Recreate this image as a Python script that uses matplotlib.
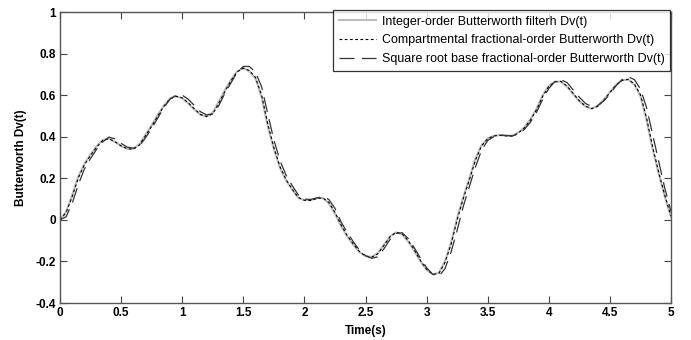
import matplotlib
matplotlib.use("Agg")
import matplotlib.pyplot as plt
import numpy as np

t = np.round(np.arange(0, 5.0001, 0.05), 2)

integer_order = [
    0.000, 0.040, 0.120, 0.210, 0.270, 0.315, 0.355, 0.385, 0.392, 0.375,
    0.355, 0.342, 0.342, 0.365, 0.410, 0.455, 0.505, 0.550, 0.585, 0.595,
    0.585, 0.560, 0.530, 0.505, 0.498, 0.515, 0.570, 0.625, 0.675, 0.715,
    0.730, 0.715, 0.680, 0.590, 0.450, 0.340, 0.250, 0.190, 0.145, 0.105,
    0.095, 0.095, 0.105, 0.105, 0.080, 0.030, -0.030, -0.080, -0.120, -0.155,
    -0.175, -0.178, -0.160, -0.120, -0.080, -0.060, -0.070, -0.105, -0.150, -0.200,
    -0.240, -0.262, -0.255, -0.200, -0.110, 0.010, 0.110, 0.200, 0.295, 0.360,
    0.392, 0.405, 0.408, 0.405, 0.405, 0.420, 0.445, 0.485, 0.535, 0.600,
    0.645, 0.665, 0.665, 0.640, 0.605, 0.570, 0.545, 0.535, 0.548, 0.578,
    0.615, 0.650, 0.672, 0.675, 0.650, 0.595, 0.480, 0.340, 0.220, 0.110,
    0.015,
]

compartmental = [
    0.000, 0.035, 0.112, 0.202, 0.265, 0.310, 0.350, 0.382, 0.390, 0.376,
    0.356, 0.342, 0.340, 0.360, 0.405, 0.450, 0.500, 0.546, 0.582, 0.594,
    0.587, 0.563, 0.534, 0.507, 0.497, 0.510, 0.562, 0.618, 0.670, 0.712,
    0.730, 0.718, 0.685, 0.600, 0.462, 0.348, 0.256, 0.194, 0.148, 0.108,
    0.094, 0.093, 0.102, 0.106, 0.084, 0.036, -0.024, -0.075, -0.116, -0.152,
    -0.174, -0.180, -0.164, -0.124, -0.082, -0.060, -0.067, -0.100, -0.145, -0.196,
    -0.238, -0.262, -0.258, -0.206, -0.118, 0.000, 0.102, 0.192, 0.288, 0.356,
    0.390, 0.404, 0.407, 0.404, 0.403, 0.417, 0.442, 0.480, 0.530, 0.594,
    0.642, 0.664, 0.666, 0.643, 0.608, 0.573, 0.547, 0.535, 0.546, 0.575,
    0.612, 0.648, 0.671, 0.676, 0.654, 0.602, 0.490, 0.350, 0.228, 0.116,
    0.018,
]

square_root = [
    0.000, 0.015, 0.080, 0.170, 0.245, 0.295, 0.340, 0.375, 0.398, 0.390,
    0.368, 0.350, 0.345, 0.355, 0.395, 0.440, 0.490, 0.540, 0.580, 0.600,
    0.600, 0.580, 0.550, 0.520, 0.505, 0.510, 0.550, 0.610, 0.660, 0.710,
    0.738, 0.738, 0.710, 0.640, 0.510, 0.385, 0.285, 0.215, 0.165, 0.120,
    0.100, 0.098, 0.105, 0.112, 0.098, 0.055, -0.010, -0.060, -0.105, -0.145,
    -0.172, -0.185, -0.178, -0.140, -0.095, -0.065, -0.062, -0.090, -0.135, -0.185,
    -0.230, -0.262, -0.272, -0.235, -0.155, -0.050, 0.065, 0.160, 0.255, 0.335,
    0.382, 0.400, 0.408, 0.406, 0.404, 0.412, 0.435, 0.470, 0.518, 0.580,
    0.632, 0.665, 0.675, 0.660, 0.625, 0.590, 0.560, 0.545, 0.550, 0.572,
    0.605, 0.645, 0.675, 0.688, 0.675, 0.630, 0.540, 0.410, 0.280, 0.150,
    0.040,
]

labels = [
    "Integer-order Butterworth filterh Dv(t)",
    "Compartmental fractional-order Butterworth Dv(t)",
    "Square root base fractional-order Butterworth Dv(t)",
]
xticks = [0, 0.5, 1, 1.5, 2, 2.5, 3, 3.5, 4, 4.5, 5]
xticklabels = ["0", "0.5", "1", "1.5", "2", "2.5", "3", "3.5", "4", "4.5", "5"]
yticks = [-0.4, -0.2, 0, 0.2, 0.4, 0.6, 0.8, 1]
yticklabels = ["-0.4", "-0.2", "0", "0.2", "0.4", "0.6", "0.8", "1"]

plt.rcParams['font.family'] = ['Liberation Sans Narrow', 'Liberation Sans', 'DejaVu Sans']

fig = plt.figure(figsize=(6.91, 3.40), dpi=100)
ax = fig.add_axes([60/691, 1-303/340, 611/691, 291/340])

ax.plot(t, integer_order, color='#bdbdbd', lw=1.5, label=labels[0])
ax.plot(t, compartmental, color='black', lw=0.8, linestyle=(0, (2.5, 2.2)), label=labels[1])
ax.plot(t, square_root, color='#333333', lw=0.9, linestyle=(0, (12, 6)), label=labels[2])

ax.set_xlim(0, 5)
ax.set_ylim(-0.4, 1)
ax.set_xticks(xticks)
ax.set_xticklabels(xticklabels, fontweight='bold', fontsize=8.5)
ax.set_yticks(yticks)
ax.set_yticklabels(yticklabels, fontweight='bold', fontsize=8.5)
ax.tick_params(direction='in', length=5, width=0.8, top=True, right=True,
               color='#444444', pad=3)
for s in ax.spines.values():
    s.set_color('#555555')
    s.set_linewidth(1.0)

ax.set_xlabel("Time(s)", fontweight='bold', fontsize=8.5, labelpad=4)
ax.set_ylabel("Butterworth Dv(t)", fontweight='bold', fontsize=8.5, labelpad=6)

leg = ax.legend(loc='upper right', bbox_to_anchor=(670/691, 1-10/340),
                bbox_transform=fig.transFigure,
                prop={'family': ['Liberation Sans', 'DejaVu Sans'], 'size': 9},
                frameon=True, fancybox=False, handlelength=3.0, handletextpad=0.45,
                borderpad=0.45, labelspacing=0.55, borderaxespad=0)
leg.get_frame().set_edgecolor('black')
leg.get_frame().set_linewidth(0.9)

fig.savefig("out.png", dpi=100)
